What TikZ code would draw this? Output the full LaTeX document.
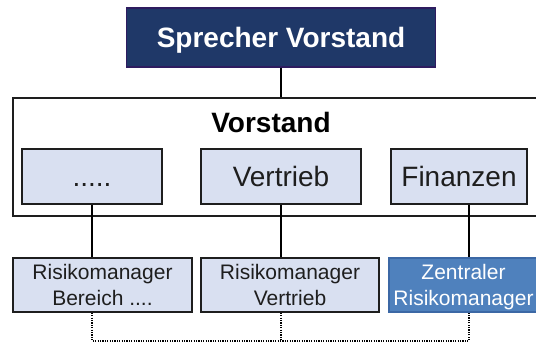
\documentclass[tikz,border=0pt]{standalone}
\usepackage{fontspec}
\setmainfont{Liberation Sans}
\definecolor{navy}{RGB}{31,56,104}
\definecolor{navyborder}{RGB}{46,28,96}
\definecolor{lightbox}{RGB}{217,224,241}
\definecolor{midblue}{RGB}{79,129,189}
\definecolor{midblueborder}{RGB}{60,104,165}
\definecolor{linegray}{RGB}{30,30,30}
\begin{document}
\begin{tikzpicture}[x=1pt,y=-1pt,
  boxbase/.style={rectangle, inner sep=0pt, line width=1.6pt},
  topbox/.style={boxbase, draw=navyborder, fill=navy, text=white,
    font=\bfseries\fontsize{28}{30}\selectfont, text height=20pt, text depth=0pt,
    minimum width=309pt, minimum height=59pt},
  subbox/.style={boxbase, draw=linegray, fill=lightbox, text=linegray,
    font=\fontsize{28}{30}\selectfont, text height=20pt, text depth=0pt,
    minimum height=55pt},
  riskbox/.style={boxbase, draw=linegray, fill=lightbox, text=linegray,
    font=\fontsize{21}{26}\selectfont, align=center, text depth=0pt,
    minimum height=54pt},
  centralbox/.style={riskbox, draw=midblueborder, fill=midblue, text=white},
  framebox/.style={boxbase, draw=linegray},
  titletext/.style={inner sep=0pt, text=black, font=\bfseries\fontsize{28}{30}\selectfont,
    text height=20pt, text depth=0pt},
  link/.style={line width=1.6pt, draw=black},
  dotlink/.style={line width=1.5pt, draw=black, dash pattern=on 1.2pt off 1.2pt}
]
\useasboundingbox (0,0) rectangle (536,343);
\clip (0,0) rectangle (536,343);
\fill[white] (0,0) rectangle (536,343);

\node[framebox, minimum width=536pt, minimum height=118pt] (vorstandbox) at (281,157) {};
\node[titletext] (vorstandtitle) at (271,122) {Vorstand};

\node[topbox] (sprecher) at (281,37.25) {Sprecher Vorstand};

\node[subbox, minimum width=140pt] (dots) at (92,176.5) {.....};
\node[subbox, minimum width=160pt] (vertrieb) at (281,176.5) {Vertrieb};
\node[subbox, minimum width=136pt] (finanzen) at (459,176.5) {Finanzen};

\node[riskbox, minimum width=179pt] (rmbereich) at (102.5,285) {Risikomanager\\Bereich ....};
\node[riskbox, minimum width=178pt] (rmvertrieb) at (290,285) {Risikomanager\\Vertrieb};
\node[centralbox, minimum width=149pt] (zentral) at (463.5,285) {Zentraler\\Risikomanager};

\coordinate (finout) at ([xshift=10pt]finanzen.south);

\draw[link] (sprecher.south) -- (vorstandbox.north);
\draw[link] (dots.south) -- (dots.south |- rmbereich.north);
\draw[link] (vertrieb.south) -- (vertrieb.south |- rmvertrieb.north);
\draw[link] (finout) -- (finout |- zentral.north);

\draw[dotlink] (dots.south |- rmbereich.south) -- ++(0,28) -| (finout |- zentral.south);
\draw[dotlink] (vertrieb.south |- rmvertrieb.south) -- ++(0,28);
\end{tikzpicture}
\end{document}
